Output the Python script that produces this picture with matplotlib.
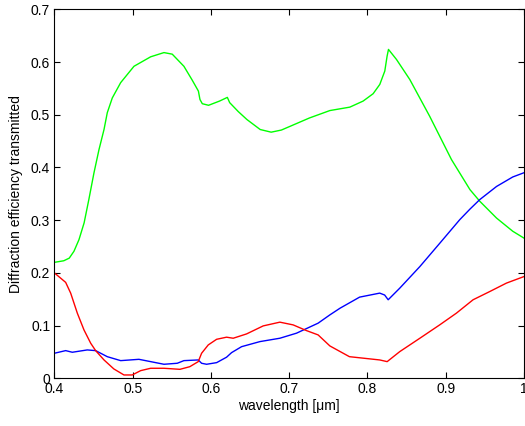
import matplotlib
matplotlib.use("Agg")
import matplotlib.pyplot as plt

plt.rcParams['font.family'] = ['Liberation Sans', 'DejaVu Sans']

# Transmitted diffraction efficiency per order vs wavelength
green_wl = [0.400, 0.412, 0.419, 0.425, 0.4314, 0.438, 0.444, 0.4506, 0.457, 0.4634,
            0.4676, 0.474, 0.4847, 0.5017, 0.523, 0.540, 0.5506, 0.5655, 0.576, 0.584,
            0.586, 0.589, 0.597, 0.611, 0.621, 0.624, 0.635, 0.646, 0.663, 0.677,
            0.690, 0.701, 0.726, 0.752, 0.7775, 0.7945, 0.8073, 0.8158, 0.8222, 0.8251,
            0.8269, 0.8371, 0.8541, 0.8796, 0.9074, 0.931, 0.9435, 0.965, 0.9857,
            1.000]
green_eff = [0.220, 0.223, 0.228, 0.241, 0.263, 0.295, 0.339, 0.390, 0.434, 0.472,
             0.504, 0.532, 0.561, 0.592, 0.610, 0.618, 0.615, 0.592, 0.566, 0.545,
             0.529, 0.521, 0.518, 0.526, 0.533, 0.523, 0.506, 0.491, 0.472, 0.467,
             0.471, 0.478, 0.494, 0.508, 0.5145, 0.526, 0.540, 0.5576, 0.583, 0.611,
             0.624, 0.605, 0.567, 0.497, 0.415, 0.358, 0.336, 0.304, 0.279,
             0.266]

blue_wl = [0.400, 0.4144, 0.4229, 0.442, 0.4527, 0.4676, 0.4847, 0.508, 0.523, 0.540,
           0.557, 0.5655, 0.5838, 0.5881, 0.5945, 0.6073, 0.620, 0.6264, 0.6392, 0.6626,
           0.6881, 0.7094, 0.737, 0.752, 0.765, 0.790, 0.8157, 0.822, 0.8265, 0.8413,
           0.867, 0.8923, 0.918, 0.931, 0.9435, 0.965, 0.9857, 1.000]
blue_eff = [0.0475, 0.0525, 0.0494, 0.0538, 0.0525, 0.041, 0.0335, 0.036, 0.0316, 0.0266,
            0.0285, 0.0335, 0.0348, 0.0285, 0.0266, 0.0297, 0.040, 0.0487, 0.060, 0.0696,
            0.076, 0.0856, 0.1046, 0.1203, 0.133, 0.154, 0.1616, 0.158, 0.149, 0.171,
            0.212, 0.256, 0.301, 0.321, 0.339, 0.364, 0.382, 0.390]

red_wl = [0.400, 0.4144, 0.4208, 0.4293, 0.4378, 0.4464, 0.4527, 0.4634, 0.476, 0.4889,
          0.4995, 0.5102, 0.523, 0.540, 0.5604, 0.573, 0.5838, 0.5881, 0.5966, 0.6073,
          0.620, 0.6285, 0.6456, 0.6668, 0.6881, 0.7051, 0.7221, 0.737, 0.752, 0.777,
          0.8157, 0.8252, 0.8413, 0.867, 0.8923, 0.9137, 0.935, 0.9563, 0.9776, 1.000]
red_eff = [0.200, 0.182, 0.1616, 0.1236, 0.0918, 0.0665, 0.0525, 0.0348, 0.0177, 0.0063,
           0.0063, 0.0145, 0.019, 0.019, 0.017, 0.022, 0.0316, 0.0475, 0.0633, 0.074,
           0.078, 0.076, 0.0842, 0.0994, 0.1065, 0.1013, 0.0905, 0.0823, 0.0614, 0.041,
           0.0348, 0.0316, 0.0506, 0.076, 0.1013, 0.1236, 0.149, 0.1646, 0.1806, 0.193]

x_ticks = [0.4, 0.5, 0.6, 0.7, 0.8, 0.9, 1.0]
x_tick_labels = ['0.4', '0.5', '0.6', '0.7', '0.8', '0.9', '1']
y_ticks = [0, 0.1, 0.2, 0.3, 0.4, 0.5, 0.6, 0.7]
y_tick_labels = ['0', '0.1', '0.2', '0.3', '0.4', '0.5', '0.6', '0.7']

fig = plt.figure(figsize=(5.25, 4.26), dpi=100)
ax = fig.add_axes([0.1036, 0.112, 0.8944, 0.866])

ax.plot(green_wl, green_eff, color='#00ff00', lw=1.0)
ax.plot(blue_wl, blue_eff, color='#0000ff', lw=1.0)
ax.plot(red_wl, red_eff, color='#ff0000', lw=1.0)

ax.set_xlim(0.4, 1.0)
ax.set_ylim(0, 0.7)
ax.set_xticks(x_ticks)
ax.set_xticklabels(x_tick_labels)
ax.set_yticks(y_ticks)
ax.set_yticklabels(y_tick_labels)
ax.tick_params(direction='in', length=4, width=0.8, top=True, right=True,
               labelsize=10, pad=3)
for s in ax.spines.values():
    s.set_linewidth(0.8)

ax.set_xlabel('wavelength [\u03bcm]', fontsize=10, labelpad=2)
ax.set_ylabel('Diffraction efficiency transmitted', fontsize=10, labelpad=6)

fig.savefig('out.png', dpi=100)
